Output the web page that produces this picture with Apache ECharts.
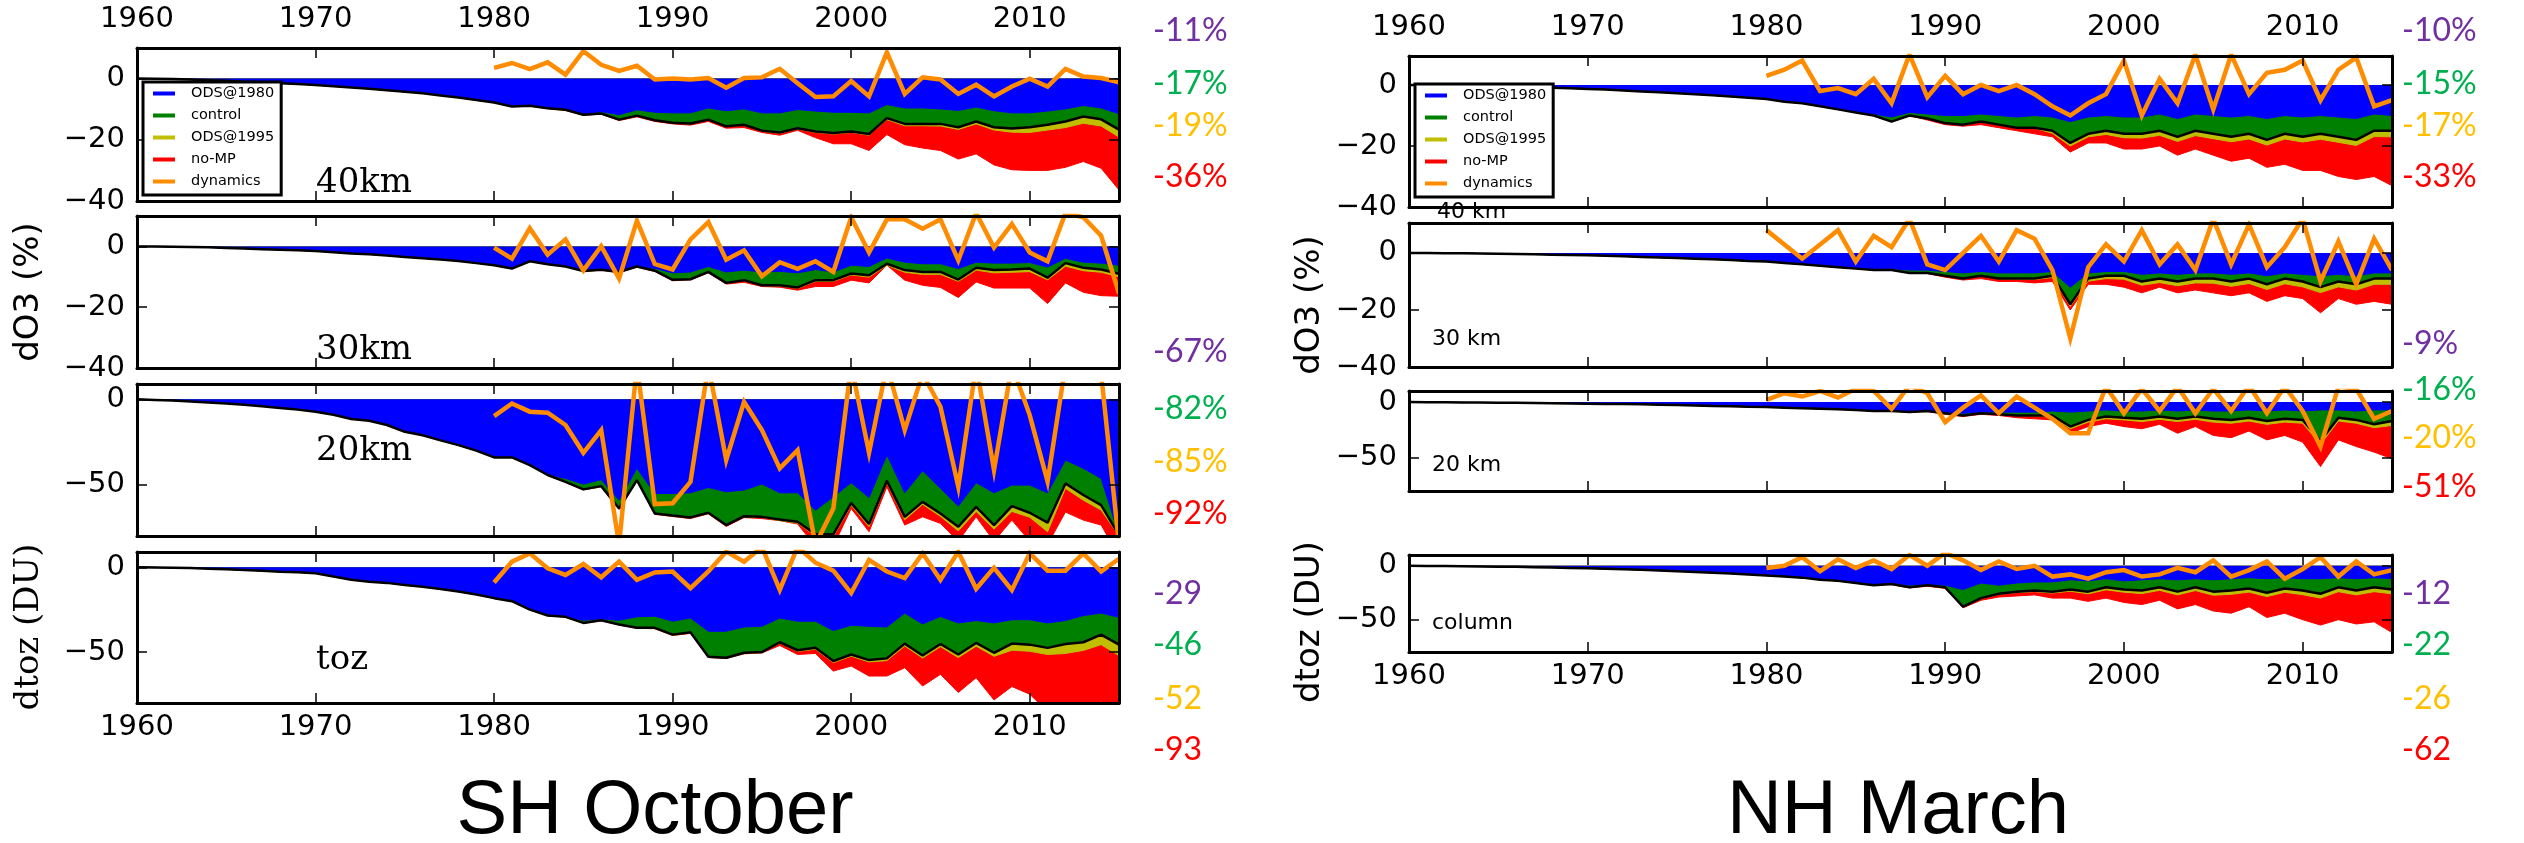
<!DOCTYPE html>
<html><head><meta charset="utf-8">
<script src="https://cdn.jsdelivr.net/npm/echarts@6/dist/echarts.min.js"></script>
<style>html,body{margin:0;padding:0;background:#fff}#c{width:2524px;height:843px}</style>
</head><body><div id="c"></div>
<script>
// ---------- categories / ticks ----------
const years = [1960,1961,1962,1963,1964,1965,1966,1967,1968,1969,1970,1971,1972,1973,1974,1975,1976,1977,1978,1979,
  1980,1981,1982,1983,1984,1985,1986,1987,1988,1989,1990,1991,1992,1993,1994,1995,1996,1997,1998,1999,
  2000,2001,2002,2003,2004,2005,2006,2007,2008,2009,2010,2011,2012,2013,2014,2015];
const xTicks = [1960,1970,1980,1990,2000,2010];
const yTicksPct = [-40,-20,0];
const yTicksDU = [-50,0];
const seriesNames = ['ODS@1980','control','ODS@1995','no-MP','dynamics'];

// ---------- SH October, 40km (1960-1979 common, then 1980-2015) ----------
const sh40Pre = [0,-0.05,-0.15,-0.3,-0.5,-0.7,-1.0,-1.2,-1.5,-1.8,-2.1,-2.5,-2.9,-3.3,-3.8,-4.3,-4.8,-5.5,-6.2,-7.0];
const sh40Ods80 = [-7.8,-9.1,-8.9,-9.7,-10.2,-11.5,-10.8,-11.8,-10.2,-11.0,-11.2,-11.2,-9.6,-10.5,-9.9,-11.2,-11.2,-10.1,-10.6,-11,-11,-11.2,-8.5,-9.6,-9.6,-9.9,-10.4,-9.3,-10.5,-11.2,-11.2,-10.6,-9.9,-8.8,-9.6,-11.5];
const sh40Ctrl = [-7.8,-9.1,-8.9,-9.7,-10.2,-11.8,-11.4,-13.4,-12.1,-13.6,-14.4,-14.7,-13.4,-15.6,-15.1,-17,-17.6,-16.2,-17.3,-17.8,-17.3,-18.1,-12.9,-14.8,-14.8,-14.8,-15.9,-14,-15.9,-16.3,-15.9,-15.1,-14,-12.4,-13.3,-16.7];
const sh40Ods95 = [-7.8,-9.1,-8.9,-9.8,-10.3,-11.9,-11.5,-13.5,-12.2,-13.7,-14.5,-14.8,-13.5,-15.7,-15.2,-17.2,-17.9,-16.5,-17.6,-18.1,-17.6,-18.5,-13.4,-15.4,-15.4,-15.5,-16.6,-14.8,-16.8,-17.5,-17.6,-16.8,-16,-14.6,-15.5,-19.1];
const sh40NoMP = [-7.8,-9.1,-8.9,-9.8,-10.4,-12,-11.6,-13.7,-12.5,-14,-14.8,-15.2,-14,-16.2,-16,-17.6,-18.5,-16.9,-19.3,-21.3,-21.3,-23.5,-18.3,-21.6,-22.7,-23.5,-26.3,-24.6,-28.2,-29.8,-30,-30,-29,-27.1,-29.3,-36.4];
const sh40Dyn = [3.5,5.1,3.1,5.3,1.3,9,4.5,2.5,4.2,-0.3,0,-0.3,0.2,-3,0.2,0.4,3.2,-1.5,-6,-5.8,-0.8,-5.8,8.6,-5,0.4,-0.3,-5,-2,-5.8,-2.6,0,-2.6,3.2,0.7,0.2,-1.2];

// ---------- SH October, 30km ----------
const sh30Pre = [0,-0.05,-0.1,-0.2,-0.3,-0.5,-0.7,-0.9,-1.1,-1.3,-1.5,-1.9,-2.3,-2.6,-3.0,-3.5,-3.9,-4.3,-4.8,-5.5];
const sh30Ods80 = [-6.2,-7.3,-4.9,-5.9,-6.6,-8.1,-7.7,-8.4,-6.6,-7.2,-8.7,-8.4,-6.6,-8.4,-7.8,-8.4,-8.2,-8.7,-7.6,-8.4,-6.2,-6.6,-3.8,-5.2,-5.7,-5.7,-7.3,-5.2,-5.5,-5.5,-5.3,-6.8,-3.9,-5.2,-5.5,-6.2];
const sh30Ctrl = [-6.2,-7.3,-4.9,-5.9,-6.6,-8.1,-7.7,-8.4,-6.6,-8,-11,-10.8,-8.4,-12,-11.1,-12.8,-12.8,-13.5,-11.1,-11.1,-8.9,-9.5,-5.7,-7.8,-8.4,-8.4,-10.9,-7,-7.8,-7.6,-7.3,-10.3,-5.5,-7,-7.6,-9];
const sh30Ods95 = [-6.2,-7.3,-4.9,-5.9,-6.6,-8.2,-7.8,-8.5,-6.7,-8.1,-11.1,-10.9,-8.5,-12.1,-11.2,-12.9,-13,-13.8,-11.5,-11.5,-9.4,-10.1,-6.2,-8.5,-9.2,-9.2,-11.5,-7.8,-8.7,-8.5,-8.3,-11,-6.5,-8,-8.5,-10];
const sh30NoMP = [-6.2,-7.3,-4.9,-5.9,-6.6,-8.2,-7.8,-8.6,-6.8,-8.2,-11.3,-11,-8.7,-12.4,-11.8,-13.2,-13.4,-14.4,-13.2,-13.2,-11.1,-12,-6.2,-11.1,-12.8,-13.5,-16.8,-11.7,-13.7,-13.7,-13.7,-18.8,-12,-15.1,-16.2,-16.4];
const sh30Dyn = [-0.4,-4,6,-2.7,2.3,-7.9,0.1,-10.6,8.5,-5.8,-7.6,2.3,8,-4.4,-1.3,-9.8,-5.2,-7.4,-4.9,-8.4,9.6,-2,8.9,8.9,5.8,8.9,-4.6,11,-0.4,7.4,-2,-4.9,11,9.6,3.5,-15.5];

// ---------- SH October, 20km ----------
const sh20Pre = [0,-0.3,-0.7,-1.2,-1.8,-2.4,-3.1,-4,-5,-6,-7.2,-9,-11.5,-12.5,-15,-19,-21,-24,-26.8,-30];
const sh20Ods80 = [-34,-34,-38.5,-44,-46.3,-49.6,-47,-59,-40.4,-55.1,-55.1,-54.7,-51.6,-54.1,-53.1,-49.6,-54.7,-54.7,-64.9,-57.1,-48.8,-57.5,-32.6,-54.7,-41.8,-52.1,-62.5,-48.8,-54.7,-50.2,-50.2,-54.7,-35.6,-40.4,-46.3,-79.5];
const sh20Ctrl = [-34,-34,-38.5,-44.3,-48.3,-52.7,-50.8,-63.9,-47.3,-66.8,-68,-69.1,-66.4,-73.6,-68.4,-68.8,-70.3,-71.7,-78.9,-79,-60.6,-73,-47.7,-68.8,-60,-66.8,-74.6,-62.9,-73.6,-62.5,-66.4,-72.2,-49.2,-56,-61.9,-79.5];
const sh20Ods95 = [-34,-34,-38.6,-44.5,-48.5,-53,-51.1,-64.2,-47.6,-67.1,-68.3,-69.4,-66.7,-73.9,-68.7,-69.1,-71,-72.5,-80,-80.5,-62,-74.5,-49,-70.5,-61.5,-68.5,-77,-65.6,-76,-65.6,-69,-77.5,-52.1,-59,-64.8,-80];
const sh20NoMP = [-34,-34,-38.7,-44.5,-48.6,-53,-51.2,-64.3,-47.8,-67.3,-68.6,-69.8,-67,-74.4,-69.2,-69.8,-71,-73,-86,-86,-63.9,-77.5,-51.2,-73.6,-68.8,-72.6,-83,-68.8,-83,-70.7,-83,-85,-66,-70.7,-73.6,-92];
const sh20Dyn = [-9.8,-2.4,-7.2,-7.8,-15,-31.3,-18,-85,20,-61.3,-60.8,-48.3,20,-35.5,-1.4,-18,-40.4,-29.7,-85,-63.9,20,-31.3,20,-18,15,-4.3,-51.2,20,-41.4,20,-9.2,-48.2,20,20,15,-85];

// ---------- SH October, total ozone (DU) ----------
const shTozPre = [0,-0.1,-0.3,-0.5,-0.8,-1.2,-1.6,-2.1,-2.6,-3.0,-3.5,-5.5,-7.4,-8.5,-9.2,-10.5,-11.5,-12.8,-14.3,-16];
const shTozOds80 = [-18.2,-20,-25,-28.4,-29.2,-31.2,-30.4,-31.2,-29.2,-28.8,-31.8,-29.9,-37.7,-37.7,-35.2,-34.8,-29.9,-31.8,-31.8,-37.3,-34.2,-34.8,-35.2,-27,-33.4,-29,-32.8,-31.4,-32.8,-30.9,-30.9,-32.8,-31.4,-28.5,-27,-29.5];
const shTozCtrl = [-18.2,-20,-25,-28.4,-29.2,-32.8,-31.2,-33.7,-35.7,-35.7,-39.7,-38.3,-52.7,-53.3,-50.4,-50,-44.2,-48.9,-47.5,-55.3,-51.4,-54.7,-53.7,-45,-52,-45.2,-51.4,-44.6,-50.4,-45,-45.6,-47.5,-45.2,-44.2,-39.7,-45.6];
const shTozOds95 = [-18.2,-20,-25,-28.5,-29.4,-33,-31.4,-33.9,-35.9,-36,-40,-38.6,-53,-53.6,-50.7,-50.3,-44.8,-49.6,-48.3,-56.2,-52.4,-55.8,-55,-46.4,-53.5,-46.8,-53.2,-46.5,-52.5,-48.9,-49.5,-51.4,-50.8,-49,-45.6,-52];
const shTozNoMP = [-18.2,-20,-25,-28.5,-29.4,-33,-31.5,-34,-36,-36.2,-40.2,-39,-53.2,-53.8,-51,-50.5,-46.1,-51.4,-50.8,-61.2,-58.2,-64.1,-64.1,-59.2,-70,-63.1,-73.8,-65.1,-78.2,-70.3,-74.8,-85,-88,-90,-79,-93];
const shTozDyn = [-9,3.3,8.2,-0.6,-4.5,1.9,-5.9,3.3,-7.4,-3.1,-2.5,-12.3,-2.5,9.2,3.3,12,-13.3,12,2.7,-2,-15.2,4.3,-2.5,-6.4,8.2,-7.4,9.2,-12.7,-0.3,-13.5,8.2,-2,-2,8.2,-2.5,5];

// ---------- NH March, 40km ----------
const nh40Pre = [0,-0.1,-0.2,-0.3,-0.4,-0.5,-0.6,-0.7,-0.9,-1.1,-1.3,-1.5,-1.8,-2.1,-2.4,-2.7,-3.0,-3.4,-3.8,-4.2];
const nh40Ods80 = [-4.6,-5.5,-6,-7,-8,-9,-9.5,-10.5,-9,-9.5,-10,-10,-9.5,-10,-10.5,-10,-10.5,-12,-10.5,-10,-10.5,-10.5,-9.5,-11,-9.5,-10,-10.5,-10,-11,-10,-10.5,-10,-10.5,-11,-9.5,-10];
const nh40Ctrl = [-4.6,-5.5,-6,-7,-8,-9,-10,-12,-10,-11,-12.5,-13,-12,-13,-14,-14,-15,-19,-16,-15,-16,-16,-15,-17,-15,-16,-17,-16,-18,-16,-17,-16,-17,-18,-15,-15];
const nh40Ods95 = [-4.6,-5.5,-6,-7,-8,-9,-10,-12,-10,-11,-12.6,-13.1,-12.1,-13.1,-14.1,-14.2,-15.8,-20,-17,-16.2,-17.3,-17.4,-16.5,-18.5,-16.6,-17.6,-18.6,-17.7,-19.7,-17.7,-18.7,-17.8,-18.8,-19.8,-16.9,-17];
const nh40NoMP = [-4.6,-5.5,-6,-7,-8,-9,-10,-12,-10,-11.5,-13,-13.5,-13,-14,-15,-16,-17,-22,-19,-19,-21,-21,-20,-23,-21,-23,-25,-24,-27,-26,-28,-28,-30,-31,-30,-33];
const nh40Dyn = [3,5,8,-2,-1,-3,2,-6,10,-4,3,-3,0,-2,0,-3,-7,-10,-6,-3,8,-10,2,-6,10,-8,10,-3,4,5,8,-5,5,9,-7,-5];

// ---------- NH March, 30km ----------
const nh30Pre = [0,0,-0.1,-0.1,-0.2,-0.3,-0.4,-0.5,-0.6,-0.7,-0.8,-1,-1.2,-1.4,-1.6,-1.8,-2,-2.2,-2.5,-2.8];
const nh30Ods80 = [-3,-3.5,-4,-4.5,-5,-5.5,-5.5,-5.5,-6,-6,-6.5,-7,-6.5,-7,-7,-7,-6.5,-12,-7,-6.5,-6.5,-7.5,-7,-7.5,-7,-7,-7.5,-7,-8,-7,-7.5,-8,-7.5,-8,-7,-7];
const nh30Ctrl = [-3,-3.5,-4,-4.5,-5,-5.5,-6,-6,-7,-7,-8,-9,-8,-9,-9,-9,-8,-18,-9,-8,-8,-10,-9,-10,-9,-9,-10,-9,-11,-9,-10,-12,-10,-11,-9,-9];
const nh30Ods95 = [-3,-3.5,-4,-4.5,-5,-5.5,-6,-6,-7,-7,-8.1,-9.1,-8.1,-9.1,-9.2,-9.3,-8.6,-18.8,-9.9,-9,-9.2,-11.3,-10.4,-11.5,-10.5,-10.6,-11.7,-10.7,-12.8,-10.8,-11.9,-13.9,-11.9,-13,-11,-11];
const nh30NoMP = [-3,-3.5,-4,-4.5,-5,-5.5,-6,-6,-7,-7.2,-8.5,-9.5,-9,-10,-10,-10.5,-10,-20,-11,-11,-12,-14,-12,-14,-13,-14,-15,-14,-17,-15,-16,-21,-16,-18,-17,-18];
const nh30Dyn = [8,3,-2,3,8,-3,6,2,12,-4,-6,0,6,-3,8,5,-6,-30,-5,3,-3,8,-4,3,-6,12,-4,10,-5,2,12,-10,4,-11,5,-6];

// ---------- NH March, 20km ----------
const nh20Pre = [0,-0.1,-0.2,-0.3,-0.4,-0.5,-0.6,-0.8,-1,-1.2,-1.4,-1.6,-1.8,-2,-2.3,-2.6,-3,-3.4,-3.8,-4.2];
const nh20Ods80 = [-4.5,-5,-5.5,-6,-6.5,-7,-8,-7.5,-8,-8,-9,-10,-9,-9,-9,-9,-8,-9,-8,-7,-8,-8,-7,-8,-7,-8,-8,-7,-8,-7,-8,-7,-7,-8,-7,-7];
const nh20Ctrl = [-4.5,-5,-5.5,-6,-6.5,-7,-8,-8,-9,-8,-10,-12,-10,-11,-12,-12,-12,-22,-16,-13,-14,-15,-13,-15,-13,-15,-16,-14,-17,-15,-16,-35,-14,-16,-20,-17];
const nh20Ods95 = [-4.5,-5,-5.5,-6,-6.5,-7,-8,-8,-9,-8,-10.2,-12.2,-10.2,-11.2,-12.3,-12.5,-13,-24,-18,-15,-16,-17.5,-15.5,-17.5,-15.5,-18,-19,-17,-20,-18,-19,-38,-17,-19,-23,-21];
const nh20NoMP = [-4.5,-5,-5.5,-6,-6.5,-7,-8,-8,-9,-8.5,-11,-13,-11,-12,-14,-15,-16,-28,-22,-19,-22,-24,-20,-28,-22,-30,-32,-26,-34,-30,-36,-58,-34,-40,-45,-51];
const nh20Dyn = [2,8,5,10,4,12,10,-6,15,8,-18,-5,6,-10,5,-5,-15,-28,-28,14,-10,12,-8,14,-10,12,-8,15,-10,14,-8,-40,14,12,-15,-8];

// ---------- NH March, column ozone (DU) ----------
const nhColPre = [0,-0.1,-0.2,-0.4,-0.6,-0.8,-1,-1.3,-1.6,-2,-2.4,-2.8,-3.3,-3.8,-4.4,-5,-5.7,-6.4,-7.2,-8];
const nhColOds80 = [-9,-10,-11,-13,-14,-16,-17,-16,-18,-17,-18,-22,-16,-18,-16,-15,-15,-13,-14,-12,-14,-13,-12,-13,-12,-13,-12,-11,-12,-11,-12,-12,-11,-12,-11,-12];
const nhColCtrl = [-9,-10,-11,-13,-14,-16,-18,-17,-20,-18,-20,-38,-30,-26,-24,-23,-24,-22,-24,-20,-22,-23,-20,-24,-20,-24,-23,-21,-25,-21,-23,-26,-20,-23,-20,-22];
const nhColOds95 = [-9,-10,-11,-13,-14,-16,-18,-17,-20,-18,-20.3,-38.4,-30.5,-26.6,-24.8,-24,-25.3,-23.6,-26,-22.3,-24.5,-25.8,-22.8,-27,-23,-27.3,-26.5,-24.4,-28.6,-24.6,-26.8,-30,-24,-27,-24,-26];
const nhColNoMP = [-9,-10,-11,-13,-14,-16,-18,-17.5,-20.5,-19,-21,-39,-32,-29,-28,-27,-30,-30,-33,-30,-34,-36,-32,-40,-36,-42,-44,-38,-48,-44,-50,-55,-50,-54,-52,-62];
const nhColDyn = [-2,0,8,-5,6,-2,5,-3,10,0,12,5,-4,4,-3,0,-10,-8,-12,-6,-4,-10,-8,-2,-6,5,-10,-4,4,-12,-3,8,-10,4,-8,-4];

// ---------- panel layout (pixels) ----------
const colL = {left:137, width:982};
const colR = {left:1409, width:983};
const panels = [
  {col:colL, top:48,  height:153, min:-40, max:10,  yTicks:yTicksPct, xTop:true,  xBottom:false, d:[sh40Pre,sh40Ods80,sh40Ctrl,sh40Ods95,sh40NoMP,sh40Dyn]},
  {col:colL, top:216, height:152, min:-40, max:10,  yTicks:yTicksPct, xTop:false, xBottom:false, d:[sh30Pre,sh30Ods80,sh30Ctrl,sh30Ods95,sh30NoMP,sh30Dyn]},
  {col:colL, top:384, height:152, min:-80, max:9,   yTicks:yTicksDU,  xTop:false, xBottom:false, d:[sh20Pre,sh20Ods80,sh20Ctrl,sh20Ods95,sh20NoMP,sh20Dyn]},
  {col:colL, top:552, height:151, min:-80, max:9,   yTicks:yTicksDU,  xTop:false, xBottom:true,  d:[shTozPre,shTozOds80,shTozCtrl,shTozOds95,shTozNoMP,shTozDyn]},
  {col:colR, top:56,  height:151, min:-40, max:9.5, yTicks:yTicksPct, xTop:true,  xBottom:false, d:[nh40Pre,nh40Ods80,nh40Ctrl,nh40Ods95,nh40NoMP,nh40Dyn]},
  {col:colR, top:223, height:144, min:-40, max:10.5,yTicks:yTicksPct, xTop:false, xBottom:false, d:[nh30Pre,nh30Ods80,nh30Ctrl,nh30Ods95,nh30NoMP,nh30Dyn]},
  {col:colR, top:391, height:100, min:-80, max:10,  yTicks:yTicksDU,  xTop:false, xBottom:false, d:[nh20Pre,nh20Ods80,nh20Ctrl,nh20Ods95,nh20NoMP,nh20Dyn]},
  {col:colR, top:555, height:97,  min:-80, max:10,  yTicks:yTicksDU,  xTop:false, xBottom:true,  d:[nhColPre,nhColOds80,nhColCtrl,nhColOds95,nhColNoMP,nhColDyn]}
];

const C = {ods80:'#0000ff', ctrl:'#008000', ods95:'#bfbf00', nomp:'#ff0000', dyn:'#ff8c00'};
const minus = v => (v < 0 ? '\u2212' + Math.abs(v) : String(v));
const tickFont = {fontFamily:'DejaVu Sans', fontSize:29, color:'#000'};

const grid = [], xAxis = [], yAxis = [], series = [];
panels.forEach((p, g) => {
  grid.push({left:p.col.left, top:p.top, width:p.col.width, height:p.height, containLabel:false});
  ['bottom','top'].forEach(pos => {
    const show = pos === 'top' ? p.xTop : p.xBottom;
    xAxis.push({gridIndex:g, type:'value', min:1960, max:2015, position:pos, z:10,
      axisLine:{show:true, onZero:false, lineStyle:{color:'#000', width:3}},
      axisTick:{show:true, inside:true, length:10, customValues:xTicks, lineStyle:{color:'#000', width:1.5}},
      axisLabel:{show:show, customValues:xTicks, margin: pos === 'top' ? 14 : 10, formatter:v => String(v), ...tickFont},
      splitLine:{show:false}});
  });
  ['left','right'].forEach(pos => {
    yAxis.push({gridIndex:g, type:'value', min:p.min, max:p.max, position:pos, z:10,
      axisLine:{show:true, onZero:false, lineStyle:{color:'#000', width:3}},
      axisTick:{show:true, inside:true, length:10, customValues:p.yTicks, lineStyle:{color:'#000', width:1.5}},
      axisLabel:{show:pos === 'left', customValues:p.yTicks, margin:12, formatter:minus, ...tickFont},
      splitLine:{show:false}});
  });
  const [pre, o80, ctl, o95, nmp, dyn] = p.d;
  const full = arr => years.map((y, i) => [y, i < pre.length ? pre[i] : arr[i - pre.length]]);
  const xi = g * 2, yi = g * 2;
  const area = (name, arr, color) => ({name, type:'line', xAxisIndex:xi, yAxisIndex:yi, data:full(arr),
    symbol:'none', silent:true, animation:false, z:2,
    itemStyle:{color}, lineStyle:{color, width:1}, areaStyle:{color, opacity:1, origin:'auto'}});
  series.push(area('no-MP', nmp, C.nomp));
  series.push(area('ODS@1995', o95, C.ods95));
  series.push(area('control', ctl, C.ctrl));
  series.push(area('ODS@1980', o80, C.ods80));
  series.push({name:'control line', type:'line', xAxisIndex:xi, yAxisIndex:yi, data:full(ctl), symbol:'none',
    silent:true, animation:false, z:3, lineStyle:{color:'#000', width:2.5}, itemStyle:{color:'#000'}});
  series.push({name:'dynamics', type:'line', xAxisIndex:xi, yAxisIndex:yi,
    data:years.slice(pre.length).map((y, i) => [y, dyn[i]]), symbol:'none', silent:true, animation:false, z:4,
    lineStyle:{color:C.dyn, width:4.5, join:'miter'}, itemStyle:{color:C.dyn}});
});

const legendBase = {orient:'vertical', data:seriesNames, icon:'rect', itemWidth:22, itemHeight:4, itemGap:7,
  borderColor:'#000', borderWidth:3, padding:[4,7,6,10], backgroundColor:'#fff', selectedMode:false, z:20,
  textStyle:{fontFamily:'DejaVu Sans', fontSize:14.5, color:'#000', lineHeight:14, padding:[0,0,0,11]}};
const legend = [{...legendBase, left:143, top:82}, {...legendBase, left:1415, top:84}];

// ---------- text annotations ----------
const PUR = '#7030a0', GRN = '#00b050', YEL = '#ffc000', RED = '#ff0000';
const annL = [['-11%',PUR,34],['-17%',GRN,87],['-19%',YEL,129],['-36%',RED,180],['-67%',PUR,355],['-82%',GRN,412],['-85%',YEL,465],['-92%',RED,517],['-29',PUR,597],['-46',GRN,648],['-52',YEL,702],['-93',RED,753]];
const annR = [['-10%',PUR,34],['-15%',GRN,87],['-17%',YEL,129],['-33%',RED,180],['-9%',PUR,347],['-16%',GRN,393],['-20%',YEL,441],['-51%',RED,490],['-12',PUR,597],['-22',GRN,648],['-26',YEL,702],['-62',RED,753]];
const graphic = [];
annL.forEach(([t,c,y]) => graphic.push({type:'text', left:1153, top:y-19, style:{text:t, fill:c, font:'32px Lato'}}));
annR.forEach(([t,c,y]) => graphic.push({type:'text', left:2402, top:y-19, style:{text:t, fill:c, font:'32px Lato'}}));
const serifLbl = [['40km',316,200],['30km',316,367],['20km',316,468],['toz',316,677]];
serifLbl.forEach(([t,x,y]) => graphic.push({type:'text', x:x, y:y, z:30, style:{text:t, fill:'#000', font:'34px "DejaVu Serif"', verticalAlign:'bottom'}}));
const sansLbl = [['40 km',1437,223],['30 km',1432,350],['20 km',1432,476],['column',1432,634]];
sansLbl.forEach(([t,x,y]) => graphic.push({type:'text', x:x, y:y, z:30, style:{text:t, fill:'#000', font:'22px "DejaVu Sans"', verticalAlign:'bottom'}}));
// axis titles
[['dO3 (%)',29,292,'34px "DejaVu Sans"'],['dtoz (DU)',29,627,'34px "DejaVu Serif"'],['dO3 (%)',1310,305,'34px "DejaVu Sans"'],['dtoz (DU)',1310,622,'34px "DejaVu Sans"']]
  .forEach(([t,x,y,f]) => graphic.push({type:'text', x:x, y:y, rotation:Math.PI/2, style:{text:t, fill:'#000', font:f, align:'center', verticalAlign:'middle'}}));
graphic.push({type:'text', x:655, y:812, style:{text:'SH October', fill:'#000', font:'76px "Liberation Sans"', align:'center', verticalAlign:'middle'}});
graphic.push({type:'text', x:1898, y:812, style:{text:'NH March', fill:'#000', font:'76px "Liberation Sans"', align:'center', verticalAlign:'middle'}});

const chart = echarts.init(document.getElementById('c'), null, {renderer:'canvas'});
chart.setOption({animation:false, backgroundColor:'#fff', grid, xAxis, yAxis, series, legend, graphic});
</script></body></html>
